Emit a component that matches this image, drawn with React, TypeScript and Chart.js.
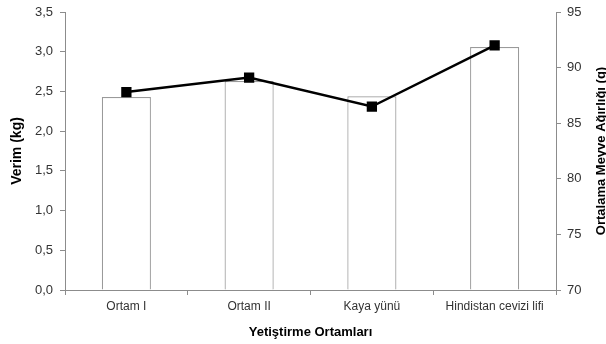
import React, { useEffect, useRef } from "react";
import { Chart, registerables } from "chart.js";

Chart.register(...registerables);

const categories = ["Ortam I", "Ortam II", "Kaya yünü", "Hindistan cevizi lifi"];
const verim = [2.43, 2.63, 2.44, 3.06];
const meyveAgirligi = [87.8, 89.1, 86.5, 92.0];
const rightTitle = "Ortalama Meyve Ağırlığı (g)";

const FONT = "'Liberation Sans', Arial, sans-serif";
const AXIS = "#8c8c8c";
const TEXT = "#333333";

const rightTitlePlugin = {
  id: "rightTitle",
  afterDraw(chart: any) {
    const { ctx, chartArea } = chart;
    ctx.save();
    ctx.translate(601, (chartArea.top + chartArea.bottom) / 2);
    ctx.rotate(-Math.PI / 2);
    ctx.fillStyle = "#000000";
    ctx.font = `bold 13px ${FONT}`;
    ctx.textAlign = "center";
    ctx.textBaseline = "middle";
    ctx.fillText(rightTitle, 0, 0);
    ctx.restore();
  },
};

const fixVertical = (width: number) => (s: any) => {
  s.width = width;
  s.paddingTop = 0;
  s.paddingBottom = 0;
};

export default function App() {
  const ref = useRef<HTMLCanvasElement | null>(null);

  useEffect(() => {
    document.body.style.margin = "0";
    const canvas = ref.current;
    if (!canvas) return;
    const chart = new Chart(canvas, {
      type: "bar",
      data: {
        labels: categories,
        datasets: [
          {
            type: "line",
            label: rightTitle,
            data: meyveAgirligi,
            yAxisID: "y2",
            borderColor: "#000000",
            backgroundColor: "#000000",
            borderWidth: 2.5,
            pointStyle: "rect",
            pointRadius: 5.5,
            pointHoverRadius: 5.5,
            tension: 0,
            order: 0,
          },
          {
            type: "bar",
            label: "Verim (kg)",
            data: verim,
            yAxisID: "y",
            backgroundColor: "#ffffff",
            borderColor: "#9a9a9a",
            borderWidth: 1.2,
            categoryPercentage: 1,
            barPercentage: 0.4,
            order: 1,
          },
        ],
      },
      options: {
        responsive: false,
        animation: false,
        layout: { padding: { top: 12, left: 0, right: 0, bottom: 0 } },
        plugins: { legend: { display: false }, tooltip: { enabled: false } },
        scales: {
          x: {
            grid: { display: true, drawOnChartArea: false, drawTicks: true, tickLength: 5, color: AXIS, offset: true },
            border: { display: true, color: AXIS, width: 1 },
            ticks: { color: TEXT, font: { family: FONT, size: 12 }, padding: 4, maxRotation: 0 },
            title: {
              display: true,
              text: "Yetiştirme Ortamları",
              color: "#000000",
              font: { family: FONT, size: 13, weight: "bold" },
              padding: { top: 0, bottom: 4 },
            },
            afterFit: (s: any) => { s.height = 54; s.paddingLeft = 0; s.paddingRight = 0; },
          },
          y: {
            position: "left",
            min: 0,
            max: 3.5,
            grid: { display: true, drawOnChartArea: false, drawTicks: true, tickLength: 5, color: AXIS },
            border: { display: true, color: AXIS, width: 1 },
            ticks: {
              stepSize: 0.5,
              color: TEXT,
              font: { family: FONT, size: 13 },
              padding: 7,
              callback: (v: any) => Number(v).toFixed(1).replace(".", ","),
            },
            title: {
              display: true,
              text: "Verim (kg)",
              color: "#000000",
              font: { family: FONT, size: 14, weight: "bold" },
              padding: { top: 9, bottom: 0 },
            },
            afterFit: fixVertical(65),
          },
          y2: {
            position: "right",
            min: 70,
            max: 95,
            grid: { display: true, drawOnChartArea: false, drawTicks: true, tickLength: 5, color: AXIS },
            border: { display: true, color: AXIS, width: 1 },
            ticks: {
              stepSize: 5,
              color: TEXT,
              font: { family: FONT, size: 13 },
              padding: 6,
            },
            title: { display: false },
            afterFit: fixVertical(50),
          },
        },
      },
      plugins: [rightTitlePlugin],
    });
    return () => chart.destroy();
  }, []);

  return (
    <div style={{ width: 606, height: 344, background: "#ffffff" }}>
      <canvas ref={ref} width={606} height={344} />
    </div>
  );
}
